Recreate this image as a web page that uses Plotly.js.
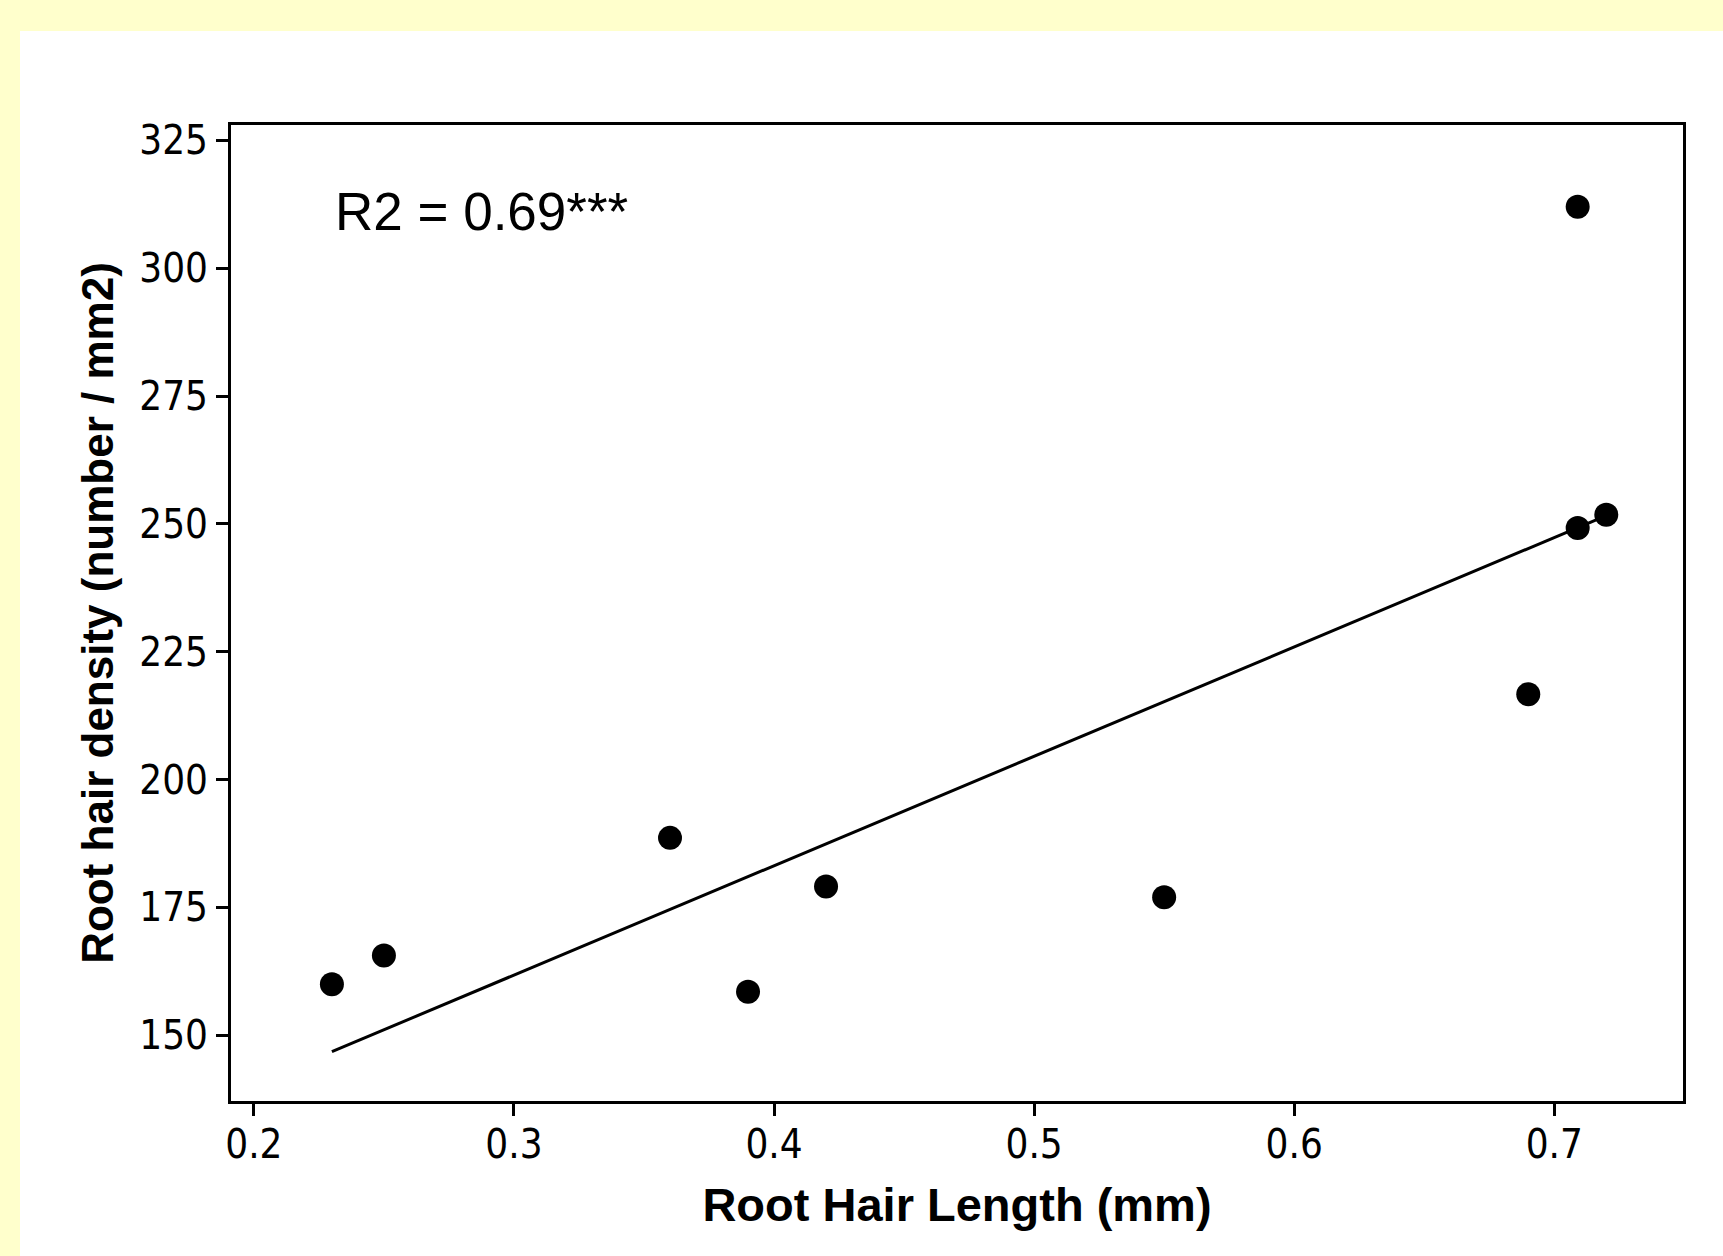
<!DOCTYPE html>
<html>
<head>
<meta charset="utf-8">
<script src="https://cdn.plot.ly/plotly-3.0.1.min.js"></script>
<style>
  html, body { margin: 0; padding: 0; background: #FFFFCC; width: 1723px; height: 1256px; overflow: hidden; }
  #chart { position: absolute; left: 20px; top: 31px; width: 1703px; height: 1225px; background: #ffffff; }
</style>
</head>
<body>
<div id="chart"></div>
<script>
// Data
const rootHairLength = [0.23, 0.25, 0.36, 0.39, 0.42, 0.55, 0.69, 0.709, 0.709, 0.72];
const rootHairDensity = [160.0, 165.6, 188.6, 158.5, 179.1, 177.0, 216.7, 312.0, 249.2, 251.8];
// Fitted regression line endpoints as drawn in the reference
const fitLength = [0.23, 0.72];
const fitDensity = [146.8, 251.6];
const xTicks = [0.2, 0.3, 0.4, 0.5, 0.6, 0.7];
const yTicks = [150, 175, 200, 225, 250, 275, 300, 325];
const annotationText = "R2 = 0.69***";

const tickFont = { family: "'Liberation Sans Narrow', 'DejaVu Sans Condensed', 'Arial Narrow', sans-serif", size: 40, color: "#000000" };
const titleFamily = "'Liberation Sans', Arial, sans-serif";

const traces = [
  {
    x: fitLength, y: fitDensity, type: "scatter", mode: "lines",
    line: { color: "#000000", width: 3 }, hoverinfo: "skip", showlegend: false
  },
  {
    x: rootHairLength, y: rootHairDensity, type: "scatter", mode: "markers",
    marker: { color: "#000000", size: 24 }, showlegend: false
  }
];

const layout = {
  width: 1703, height: 1225,
  margin: { l: 211, r: 40, t: 94, b: 155, pad: 0 },
  paper_bgcolor: "#ffffff", plot_bgcolor: "#ffffff",
  showlegend: false,
  xaxis: {
    range: [0.1912, 0.7495], tickvals: xTicks, ticktext: xTicks.map(v => v.toFixed(1)),
    showgrid: false, zeroline: false, showline: true, mirror: true,
    linecolor: "#000000", linewidth: 3,
    ticks: "outside", ticklen: 12, tickwidth: 3, tickcolor: "#000000",
    tickfont: tickFont, automargin: false, ticklabelstandoff: -6,
    title: { text: "<b>Root Hair Length (mm)</b>", font: { family: titleFamily, size: 47, color: "#000000", weight: "bold" }, standoff: 23 }
  },
  yaxis: {
    range: [137.15, 327.99], tickvals: yTicks,
    showgrid: false, zeroline: false, showline: true, mirror: true,
    linecolor: "#000000", linewidth: 3,
    ticks: "outside", ticklen: 12, tickwidth: 3, tickcolor: "#000000",
    tickfont: tickFont, automargin: false,
    title: { text: "<b>Root hair density (number / mm2)</b>", font: { family: titleFamily, size: 44, color: "#000000", weight: "bold" }, standoff: 12 }
  },
  annotations: [
    {
      text: annotationText, xref: "x", yref: "y", x: 0.2303, y: 311.1,
      xanchor: "left", yanchor: "middle", showarrow: false,
      font: { family: titleFamily, size: 53, color: "#000000" }
    }
  ]
};

Plotly.newPlot("chart", traces, layout, { displayModeBar: false, staticPlot: true });
</script>
</body>
</html>
